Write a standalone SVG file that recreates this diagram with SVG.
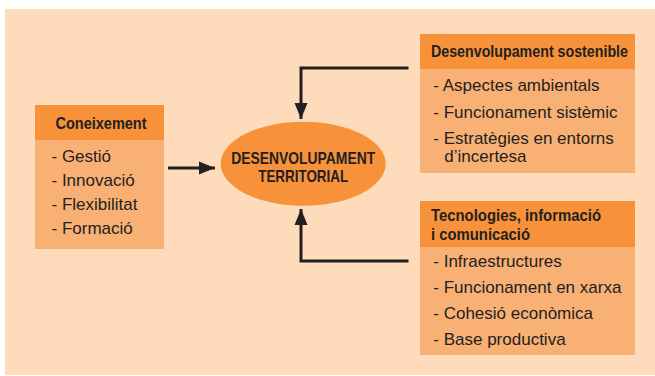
<svg xmlns="http://www.w3.org/2000/svg" width="655" height="376" viewBox="0 0 655 376">
<style>
.bg{fill:#fddbbb}
.hdr{fill:#f7923a}
.body{fill:#f9b074}
.b{font-family:"Liberation Sans Narrow","Liberation Sans","DejaVu Sans Condensed",sans-serif;font-weight:bold;font-size:17px;fill:#231f20}
.r{font-family:"Liberation Sans",Arial,sans-serif;font-size:17px;fill:#231f20}
.conn{fill:none;stroke:#231f20;stroke-width:3}
</style>
<defs>
<marker id="ah" markerUnits="userSpaceOnUse" markerWidth="16" markerHeight="14" refX="16" refY="7" orient="auto">
<path d="M0,0.5 L16,7 L0,13.5 Z" fill="#231f20"/>
</marker>
</defs>
<rect class="bg" x="5" y="9" width="650" height="366"/>
<g id="coneixement">
<rect class="hdr" x="35" y="105" width="129" height="35"/>
<rect class="body" x="35" y="140" width="129" height="109"/>
<text class="b" x="101" y="128.5" text-anchor="middle" textLength="91" lengthAdjust="spacingAndGlyphs">Coneixement</text>
<text class="r" x="51.5" y="161.5">- Gestió</text>
<text class="r" x="51.5" y="185.5">- Innovació</text>
<text class="r" x="51.5" y="209.5">- Flexibilitat</text>
<text class="r" x="51.5" y="233.5">- Formació</text>
</g>
<g id="desenvolupament-territorial">
<ellipse cx="303.2" cy="163.7" rx="82.5" ry="42" fill="#f7923a"/>
<text class="b" x="303.2" y="164.3" text-anchor="middle" font-size="18" textLength="144" lengthAdjust="spacingAndGlyphs">DESENVOLUPAMENT</text>
<text class="b" x="303.2" y="181.7" text-anchor="middle" font-size="18" textLength="90" lengthAdjust="spacingAndGlyphs">TERRITORIAL</text>
</g>
<g id="desenvolupament-sostenible">
<rect class="hdr" x="420" y="34" width="215" height="35"/>
<rect class="body" x="420" y="69" width="215" height="104"/>
<text class="b" x="431" y="57" textLength="197" lengthAdjust="spacingAndGlyphs">Desenvolupament sostenible</text>
<text class="r" x="433.3" y="91">- Aspectes ambientals</text>
<text class="r" x="433.3" y="118">- Funcionament sistèmic</text>
<text class="r" x="433.3" y="144">- Estratègies en entorns</text>
<text class="r" x="444.3" y="162.3">d’incertesa</text>
</g>
<g id="tecnologies">
<rect class="hdr" x="420" y="201" width="215" height="46"/>
<rect class="body" x="420" y="247" width="215" height="108"/>
<text class="b" x="431" y="220.5" textLength="170" lengthAdjust="spacingAndGlyphs">Tecnologies, informació</text>
<text class="b" x="431" y="239.5" textLength="99" lengthAdjust="spacingAndGlyphs">i comunicació</text>
<text class="r" x="433.3" y="267">- Infraestructures</text>
<text class="r" x="433.3" y="292.7">- Funcionament en xarxa</text>
<text class="r" x="433.3" y="318.7">- Cohesió econòmica</text>
<text class="r" x="433.3" y="345.3">- Base productiva</text>
</g>
<g id="connectors">
<path class="conn" d="M168,168 H215" marker-end="url(#ah)"/>
<path class="conn" d="M408.5,68 H301 V119" marker-end="url(#ah)"/>
<path class="conn" d="M408.5,261 H301 V209" marker-end="url(#ah)"/>
</g>
</svg>
